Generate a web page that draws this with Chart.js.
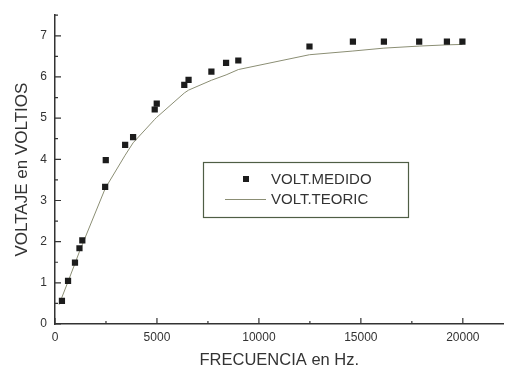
<!DOCTYPE html>
<html>
<head>
<meta charset="utf-8">
<script src="https://cdn.jsdelivr.net/npm/chart.js@4.4.0/dist/chart.umd.min.js"></script>
<style>
  html, body { margin: 0; padding: 0; background: #fff; }
  #wrap { width: 508px; height: 369px; position: relative; }
</style>
</head>
<body>
<div id="wrap"><canvas id="chart"></canvas></div>
<script>
// --- DATA ---
const medidoFreq = [340, 640, 980, 1200, 1340, 2460, 2490, 3440, 3830, 4890, 4990, 6340, 6550, 7670, 8390, 8990, 12480, 14610, 16130, 17860, 19220, 19980];
const medidoVolt = [0.56, 1.05, 1.49, 1.84, 2.03, 3.33, 3.98, 4.35, 4.54, 5.21, 5.35, 5.81, 5.93, 6.13, 6.34, 6.40, 6.74, 6.86, 6.86, 6.86, 6.86, 6.86];

const teoricFreq = [200, 340, 640, 980, 1200, 1340, 2470, 3440, 3830, 4890, 4990, 6340, 6550, 7670, 8390, 8990, 12480, 14610, 16130, 17860, 19220, 19980];
const teoricVolt = [0.47, 0.65, 1.03, 1.47, 1.76, 1.93, 3.3, 4.1, 4.4, 4.97, 5.02, 5.61, 5.68, 5.92, 6.05, 6.18, 6.54, 6.63, 6.7, 6.75, 6.78, 6.79];

const xTicks = [0, 5000, 10000, 15000, 20000];
const xMinor = [2500, 7500, 12500, 17500];
const yTicks = [0, 1, 2, 3, 4, 5, 6, 7];
const yMinor = [0.5, 1.5, 2.5, 3.5, 4.5, 5.5, 6.5, 7.5];

const labelMedido = "VOLT.MEDIDO";
const labelTeoric = "VOLT.TEORIC";

// --- HELPERS ---
const toPoints = (xs, ys) => xs.map((x, i) => ({ x: x, y: ys[i] }));
const FONT = "'Liberation Sans', Arial, sans-serif";
const INK = "#333";
const MARK = "#1c1c1c";
const LINE = "#8b8e74";

// inward ticks, like the original plot
const inwardTicks = {
  id: "inwardTicks",
  afterDraw(chart) {
    const ctx = chart.ctx;
    const xs = chart.scales.x, ys = chart.scales.y;
    const a = chart.chartArea;
    ctx.save();
    ctx.strokeStyle = INK;
    ctx.lineWidth = 1.2;
    ctx.beginPath();
    xTicks.forEach(v => { const p = xs.getPixelForValue(v); ctx.moveTo(p, a.bottom); ctx.lineTo(p, a.bottom - 6); });
    xMinor.forEach(v => { const p = xs.getPixelForValue(v); ctx.moveTo(p, a.bottom); ctx.lineTo(p, a.bottom - 3); });
    yTicks.forEach(v => { const p = ys.getPixelForValue(v); ctx.moveTo(a.left, p); ctx.lineTo(a.left + 6, p); });
    yMinor.forEach(v => { const p = ys.getPixelForValue(v); ctx.moveTo(a.left, p); ctx.lineTo(a.left + 3, p); });
    ctx.stroke();
    ctx.restore();
  }
};

// boxed legend inside the plot
const boxLegend = {
  id: "boxLegend",
  afterDraw(chart) {
    const ctx = chart.ctx;
    const ds = chart.data.datasets;
    ctx.save();
    ctx.strokeStyle = "#4f5e45";
    ctx.lineWidth = 1.2;
    ctx.strokeRect(203.5, 162.5, 205, 55);
    ctx.fillStyle = MARK;
    ctx.fillRect(243, 176, 6, 6);
    ctx.strokeStyle = LINE;
    ctx.lineWidth = 1;
    ctx.beginPath();
    ctx.moveTo(225, 199.5);
    ctx.lineTo(266, 199.5);
    ctx.stroke();
    ctx.fillStyle = INK;
    ctx.font = "15px " + FONT;
    ctx.textBaseline = "middle";
    ctx.textAlign = "left";
    ctx.fillText(ds[0].label, 271, 180);
    ctx.fillText(ds[1].label, 271, 200);
    ctx.restore();
  }
};

// --- CHART ---
new Chart(document.getElementById("chart"), {
  type: "scatter",
  data: {
    datasets: [
      {
        label: labelMedido,
        data: toPoints(medidoFreq, medidoVolt),
        pointStyle: "rect",
        pointRadius: 4.4,
        backgroundColor: MARK,
        borderColor: MARK,
        borderWidth: 0,
        order: 0
      },
      {
        label: labelTeoric,
        data: toPoints(teoricFreq, teoricVolt),
        showLine: true,
        pointRadius: 0,
        borderColor: LINE,
        borderWidth: 1,
        tension: 0,
        order: 1
      }
    ]
  },
  options: {
    responsive: true,
    maintainAspectRatio: false,
    animation: false,
    layout: { padding: { left: 14, top: 13, right: 3, bottom: 0 } },
    plugins: { legend: { display: false }, tooltip: { enabled: false } },
    scales: {
      x: {
        type: "linear",
        min: 0,
        max: 22000,
        afterBuildTicks: s => { s.ticks = xTicks.map(v => ({ value: v })); },
        afterFit: s => { s.height = 45; },
        grid: { display: false, drawTicks: false },
        border: { display: true, color: INK, width: 1.5 },
        ticks: { color: INK, padding: 6, maxRotation: 0, callback: v => String(v), font: { family: FONT, size: 12 } },
        title: { display: true, text: "FRECUENCIA en Hz.", color: INK, font: { family: FONT, size: 16.5, lineHeight: 1 }, padding: 0 }
      },
      y: {
        type: "linear",
        min: 0,
        max: 7.5,
        afterBuildTicks: s => { s.ticks = yTicks.map(v => ({ value: v })); },
        afterFit: s => { s.width = 41; },
        grid: { display: false, drawTicks: false },
        border: { display: true, color: INK, width: 1.5 },
        ticks: { color: INK, padding: 8, callback: v => String(v), font: { family: FONT, size: 12 } },
        title: { display: true, text: "VOLTAJE en VOLTIOS", color: INK, font: { family: FONT, size: 17, lineHeight: 1 }, padding: 0 }
      }
    }
  },
  plugins: [inwardTicks, boxLegend]
});
</script>
</body>
</html>
